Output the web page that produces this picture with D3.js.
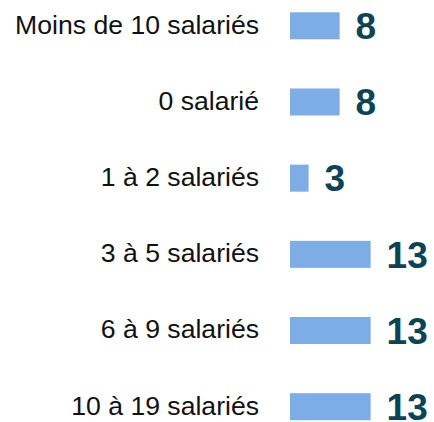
<!DOCTYPE html>
<html><head><meta charset="utf-8">
<script src="https://cdn.jsdelivr.net/npm/d3@7"></script>
<style>html,body{margin:0;padding:0;background:#fff;}svg{display:block;}</style>
</head><body>
<script>
const categories = ["Moins de 10 salariés","0 salarié","1 à 2 salariés","3 à 5 salariés","6 à 9 salariés","10 à 19 salariés"];
const values = [8, 8, 3, 13, 13, 13];

const W = 434, H = 422;
const svg = d3.select("body").append("svg").attr("width", W).attr("height", H);

const x = d3.scaleLinear().domain([0, 13]).range([290, 370.6]);
const y = d3.scalePoint().domain(categories).range([25.8, 406.7]);
const barH = 27;

const rows = svg.selectAll("g.row").data(categories.map((c,i)=>({c, v: values[i]})))
  .enter().append("g").attr("class","row");

rows.append("rect")
  .attr("x", x(0))
  .attr("y", d => y(d.c) - barH/2)
  .attr("width", d => x(d.v) - x(0))
  .attr("height", barH)
  .attr("fill", "#7cade6");

rows.append("text")
  .attr("x", 259)
  .attr("y", d => y(d.c) + 7.8)
  .attr("text-anchor", "end")
  .attr("font-family", "Liberation Sans, Arial, sans-serif")
  .attr("font-size", 26.6)
  .attr("fill", "#111")
  .text(d => d.c);

rows.append("text")
  .attr("x", d => x(d.v) + 16)
  .attr("y", d => y(d.c) + 13.2)
  .attr("font-family", "Liberation Sans, Arial, sans-serif")
  .attr("font-weight", "bold")
  .attr("font-size", 37)
  .attr("fill", "#0c4455")
  .text(d => d.v);
</script>
</body></html>
